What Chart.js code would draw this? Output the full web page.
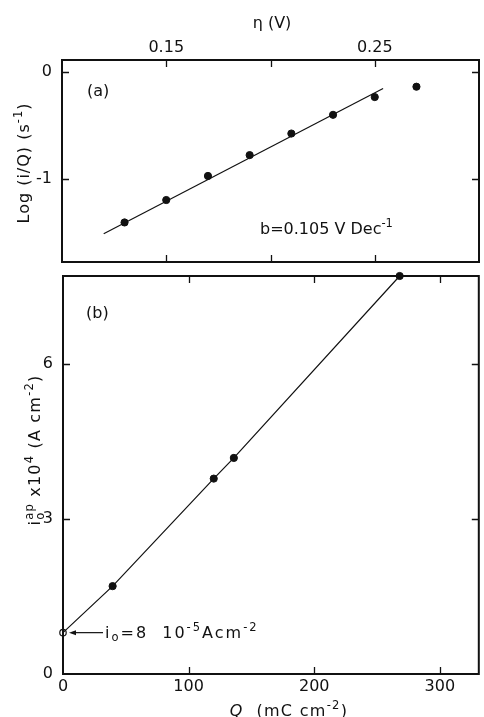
<!DOCTYPE html>
<html>
<head>
<meta charset="utf-8">
<script src="https://cdn.jsdelivr.net/npm/chart.js@4.4.1/dist/chart.umd.min.js"></script>
<style>
html,body{margin:0;padding:0;background:#fff;}
#wrap{position:relative;width:484px;height:717px;overflow:hidden;background:#fff;}
canvas{position:absolute;left:0;}
#chartA{top:0;}
#chartB{top:270px;}
</style>
</head>
<body>
<div id="wrap">
  <canvas id="chartA" width="484" height="270"></canvas>
  <canvas id="chartB" width="484" height="447"></canvas>
</div>
<script>
// panel (a): Tafel-type plot
const etaValues = [0.13, 0.15, 0.17, 0.19, 0.21, 0.23, 0.25, 0.27];
const logRateValues = [-1.41, -1.20, -0.975, -0.78, -0.578, -0.403, -0.237, -0.14];
const fitEta = [0.120, 0.254];
const fitLogRate = [-1.515, -0.156];
const etaTicks = [0.15, 0.20, 0.25];
const etaTickLabels = ["0.15", "", "0.25"];
const logTicks = [0, -1];
const logTickLabels = ["0", "-1"];

// panel (b): apparent exchange current vs charge
const chargeValues = [39.5, 120, 136, 268];
const currentValues = [1.70, 3.78, 4.18, 7.7];
const interceptCharge = [0];
const interceptCurrent = [0.8];
const chargeTicks = [0, 100, 200, 300];
const chargeTickLabels = ["0", "100", "200", "300"];
const currentTicks = [0, 3, 6];
const currentTickLabels = ["0", "3", "6"];

const FONT = '"DejaVu Sans", sans-serif';
const INK = "#111";
const TICK_LEN = 7;
const FS = 16;

function toPoints(xs, ys){
    return xs.map((x,i)=>({x:x, y:ys[i]}));
}

function setFont(ctx, r, size){
    const s = r.sup || r.sub ? size*0.72 : size;
    ctx.font = (r.italic ? "italic " : "") + s + "px " + FONT;
}
function runWidth(ctx, runs, size){
    let w = 0, pending = 0;
    runs.forEach(r=>{
        setFont(ctx, r, size);
        const rw = ctx.measureText(r.t).width;
        if(r.keep){ pending = rw; return; }
        w += Math.max(rw, pending);
        pending = 0;
    });
    return w;
}
// text pieces with super/subscripts
function drawRuns(ctx, runs, x, y, size, align, spacing){
    ctx.letterSpacing = (spacing || 0) + "px";
    let cx = x;
    if(align === "center") cx = x - runWidth(ctx, runs, size)/2;
    let pending = 0;
    ctx.fillStyle = INK;
    ctx.textBaseline = "alphabetic";
    ctx.textAlign = "left";
    runs.forEach(r=>{
        setFont(ctx, r, size);
        let dy = 0;
        if(r.sup) dy = -size*0.42;
        if(r.sub) dy = size*0.24;
        ctx.fillText(r.t, cx, y + dy);
        const rw = ctx.measureText(r.t).width;
        if(r.keep){ pending = rw; return; }
        cx += Math.max(rw, pending);
        pending = 0;
    });
    ctx.letterSpacing = "0px";
}

const innerTicks = {
    id: "innerTicks",
    afterDatasetsDraw(chart, args, opts){
        const ctx = chart.ctx;
        const a = chart.chartArea;
        ctx.save();
        ctx.strokeStyle = INK;
        ctx.lineWidth = 1.3;
        const xs = chart.scales[opts.xId];
        xs.ticks.forEach(t=>{
            const p = Math.round(xs.getPixelForValue(t.value)) + 0.5;
            if(p < a.left + 2 || p > a.right - 2) return;
            ctx.beginPath();
            ctx.moveTo(p, a.top); ctx.lineTo(p, a.top + TICK_LEN);
            ctx.moveTo(p, a.bottom); ctx.lineTo(p, a.bottom - TICK_LEN);
            ctx.stroke();
        });
        const ys = chart.scales[opts.yId];
        ys.ticks.forEach(t=>{
            const p = Math.round(ys.getPixelForValue(t.value)) + 0.5;
            if(p < a.top + 2 || p > a.bottom - 2) return;
            ctx.beginPath();
            ctx.moveTo(a.left, p); ctx.lineTo(a.left + TICK_LEN, p);
            ctx.moveTo(a.right, p); ctx.lineTo(a.right - TICK_LEN, p);
            ctx.stroke();
        });
        ctx.lineWidth = 2;
        ctx.strokeRect(a.left, a.top, a.right - a.left, a.bottom - a.top);
        ctx.restore();
    }
};

const labelsA = {
    id: "labelsA",
    afterDraw(chart){
        const ctx = chart.ctx;
        const a = chart.chartArea;
        ctx.save();
        drawRuns(ctx, [{t:"η (V)"}], 272, 28, FS, "center");
        drawRuns(ctx, [{t:"(a)"}], a.left + 25, 96, FS);
        drawRuns(ctx, [{t:"b=0.105 V Dec"},{t:"-1", sup:true}], 260, 234, FS);
        ctx.translate(23, 163);
        ctx.rotate(-Math.PI/2);
        drawRuns(ctx, [{t:"Log (i/Q) (s"},{t:"-1", sup:true},{t:")"}], 0, 6, FS, "center", 1);
        ctx.restore();
    }
};

const labelsB = {
    id: "labelsB",
    afterDraw(chart){
        const ctx = chart.ctx;
        const a = chart.chartArea;
        const xs = chart.scales.x, ys = chart.scales.y;
        ctx.save();
        drawRuns(ctx, [{t:"(b)"}], a.left + 23, 48, FS);
        // arrow pointing at the intercept
        const px = xs.getPixelForValue(interceptCharge[0]);
        const py = ys.getPixelForValue(interceptCurrent[0]);
        ctx.strokeStyle = INK;
        ctx.fillStyle = INK;
        ctx.lineWidth = 1.2;
        ctx.beginPath();
        ctx.moveTo(px + 10, py); ctx.lineTo(px + 40, py);
        ctx.stroke();
        ctx.beginPath();
        ctx.moveTo(px + 6, py); ctx.lineTo(px + 13, py - 2.5); ctx.lineTo(px + 13, py + 2.5);
        ctx.closePath(); ctx.fill();
        drawRuns(ctx, [{t:"i"},{t:"o", sub:true},{t:"=8  10"},{t:"-5", sup:true},{t:"Acm"},{t:"-2", sup:true}], px + 42, py + 5, FS, "left", 2);
        drawRuns(ctx, [{t:"Q", italic:true},{t:"  (mC cm"},{t:"-2", sup:true},{t:")"}], 289, 446, FS, "center", 1.3);
        ctx.translate(34, 180);
        ctx.rotate(-Math.PI/2);
        drawRuns(ctx, [{t:"i"},{t:"ap", sup:true, keep:true},{t:"o", sub:true},{t:" x10"},{t:"4", sup:true},{t:" (A cm"},{t:"-2", sup:true},{t:")"}], 0, 6, FS, "center", 1.2);
        ctx.restore();
    }
};

function fixedTicks(values){
    return function(scale){
        scale.ticks = values.map(v=>({value:v}));
    };
}
// fixed axis box sizes, no extra room for overhanging labels
function fitBox(w, h){
    return function(s){
        if(w !== null) s.width = w;
        if(h !== null) s.height = h;
        s.paddingLeft = s.paddingRight = s.paddingTop = s.paddingBottom = 0;
    };
}

function axis(extra){
    return Object.assign({
        type: "linear",
        grid: { display: false, drawTicks: false },
        border: { display: false }
    }, extra);
}
function tickFont(labels, pad){
    return {
        color: INK,
        padding: pad,
        maxRotation: 0,
        font: { family: FONT, size: FS },
        callback: (v, i)=>labels[i]
    };
}

new Chart(document.getElementById("chartA"), {
    type: "scatter",
    data: {
        datasets: [
            {
                type: "line",
                data: toPoints(fitEta, fitLogRate),
                borderColor: INK,
                borderWidth: 1.2,
                pointRadius: 0,
                fill: false,
                clip: false
            },
            {
                data: toPoints(etaValues, logRateValues),
                backgroundColor: INK,
                borderColor: INK,
                pointRadius: 3.6,
                clip: false
            }
        ]
    },
    options: {
        responsive: false,
        animation: false,
        layout: { padding: { top: 0, right: 1, bottom: 8, left: 0 } },
        plugins: {
            legend: { display: false },
            tooltip: { enabled: false },
            innerTicks: { xId: "x", yId: "y" }
        },
        scales: {
            x: axis({
                position: "top",
                min: 0.1,
                max: 0.3,
                afterBuildTicks: fixedTicks(etaTicks),
                afterFit: fitBox(null, 60),
                ticks: tickFont(etaTickLabels, 3)
            }),
            y: axis({
                min: -1.78,
                max: 0.11,
                afterBuildTicks: fixedTicks(logTicks),
                afterFit: fitBox(62, null),
                ticks: tickFont(logTickLabels, 10)
            })
        }
    },
    plugins: [innerTicks, labelsA]
});

new Chart(document.getElementById("chartB"), {
    type: "scatter",
    data: {
        datasets: [
            {
                type: "line",
                data: toPoints(interceptCharge.concat(chargeValues), interceptCurrent.concat(currentValues)),
                borderColor: INK,
                borderWidth: 1.2,
                pointRadius: 0,
                fill: false,
                clip: false
            },
            {
                data: toPoints(chargeValues, currentValues),
                backgroundColor: INK,
                borderColor: INK,
                pointRadius: 3.6,
                clip: false
            },
            {
                data: toPoints(interceptCharge, interceptCurrent),
                backgroundColor: "#fff",
                borderColor: INK,
                borderWidth: 1.2,
                pointRadius: 3.2,
                clip: false
            }
        ]
    },
    options: {
        responsive: false,
        animation: false,
        layout: { padding: { top: 6, right: 1, bottom: 0, left: 0 } },
        plugins: {
            legend: { display: false },
            tooltip: { enabled: false },
            innerTicks: { xId: "x", yId: "y" }
        },
        scales: {
            x: axis({
                min: 0,
                max: 331,
                afterBuildTicks: fixedTicks(chargeTicks),
                afterFit: fitBox(null, 43),
                ticks: tickFont(chargeTickLabels, 3)
            }),
            y: axis({
                min: 0,
                max: 7.7,
                afterBuildTicks: fixedTicks(currentTicks),
                afterFit: fitBox(63, null),
                ticks: tickFont(currentTickLabels, 10)
            })
        }
    },
    plugins: [innerTicks, labelsB]
});
</script>
</body>
</html>
